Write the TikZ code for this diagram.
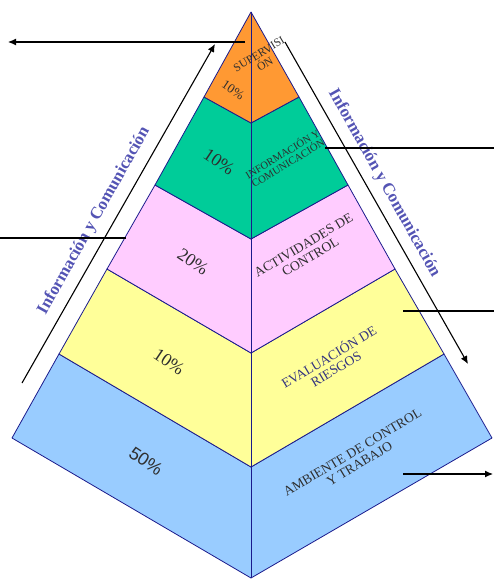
\documentclass[tikz,border=0pt]{standalone}
\usepackage{fontspec}
\setmainfont{Liberation Serif}
\newfontfamily\arialfont{Liberation Sans}
\usetikzlibrary{arrows.meta}

\definecolor{lvorange}{HTML}{FF9933}
\definecolor{lvgreen}{HTML}{00CC99}
\definecolor{lvpink}{HTML}{FFCCFF}
\definecolor{lvyellow}{HTML}{FFFF99}
\definecolor{lvblue}{HTML}{99CCFF}
\definecolor{edgenavy}{HTML}{1A1A8C}
\definecolor{sidetext}{HTML}{5454B4}
\definecolor{darktext}{HTML}{2E2E2E}
\definecolor{navytext}{HTML}{333380}

\tikzset{
  layer/.style={fill=#1, draw=edgenavy, line width=0.8pt, line join=round},
  pct/.style={font=\fontsize{#1}{#1}\selectfont, text=darktext, rotate=-34, inner sep=0pt},
  rlabel/.style={font=\fontsize{#1}{#1}\selectfont, text=darktext, align=center, rotate=31, inner sep=0pt},
  sidelabel/.style={font=\bfseries\fontsize{17}{17}\selectfont, text=sidetext, inner sep=0pt},
  guide/.style={black, line width=1.1pt},
  flow/.style={guide, -{Latex[length=8pt,width=7pt]}}
}

\begin{document}
\begin{tikzpicture}[x=1pt, y=-1pt]
\useasboundingbox (0,0) rectangle (494,579);

% pyramid corner points
\coordinate (apex) at (251,12);
\coordinate (L1) at (204,97);  \coordinate (C1) at (251,123); \coordinate (R1) at (299,97);
\coordinate (L2) at (155,185); \coordinate (C2) at (251,239); \coordinate (R2) at (348,185);
\coordinate (L3) at (107,269); \coordinate (C3) at (251,353); \coordinate (R3) at (395,269);
\coordinate (L4) at (59,354);  \coordinate (C4) at (251,467); \coordinate (R4) at (444,354);
\coordinate (L5) at (12,438);  \coordinate (C5) at (251,578); \coordinate (R5) at (492,438);

% stacked layers, bottom to top
\draw[layer=lvblue]   (L4) -- (C4) -- (R4) -- (R5) -- (C5) -- (L5) -- cycle;
\draw[layer=lvyellow] (L3) -- (C3) -- (R3) -- (R4) -- (C4) -- (L4) -- cycle;
\draw[layer=lvpink]   (L2) -- (C2) -- (R2) -- (R3) -- (C3) -- (L3) -- cycle;
\draw[layer=lvgreen]  (L1) -- (C1) -- (R1) -- (R2) -- (C2) -- (L2) -- cycle;
\draw[layer=lvorange] (apex) -- (R1) -- (C1) -- (L1) -- cycle;
\draw[edgenavy, line width=0.8pt] (apex) -- (C5);

% percentages on the left faces
\node[pct=13] (p1) at (233,90) {10\%};
\node[pct=18] (p2) at (219,162) {10\%};
\node[pct=18] (p3) at (193,262) {20\%};
\node[pct=18] (p4) at (169,362) {10\%};
\node[pct=18, font=\arialfont\fontsize{18}{18}\selectfont] (p5) at (146,461) {50\%};

% component names on the right faces
\node[rlabel=11.5] (t1) at (262,59) {SUPERVISI\\ÓN};
\node[rlabel=10.5] (t2) at (285,158) {INFORMACIÓN Y\\COMUNICACIÓN};
\node[rlabel=13.5] (t3) at (307,251) {ACTIVIDADES DE\\CONTROL};
\node[rlabel=13.5, text=navytext] (t4) at (332,362) {EVALUACIÓN DE\\RIESGOS};
\node[rlabel=13.5] (t5) at (356,458) {AMBIENTE DE CONTROL\\Y TRABAJO};

% information flow along both sides
\coordinate (lu0) at (22,383);  \coordinate (lu1) at (215,44);
\coordinate (rd0) at (285,42);  \coordinate (rd1) at (468,364);
\draw[flow] (lu0) -- (lu1);
\draw[flow] (rd0) -- (rd1);
\node[sidelabel, rotate=60.7] (sl) at (94,221) {Información y Comunicación};
\node[sidelabel, rotate=-60.7] (sr) at (384,183) {Información y Comunicación};

% horizontal leaders
\coordinate (a0) at (245,42);  \coordinate (a1) at (8,42);
\coordinate (b0) at (0,238);   \coordinate (b1) at (126,238);
\coordinate (c0) at (325,148); \coordinate (c1) at (494,148);
\coordinate (d0) at (403,311); \coordinate (d1) at (494,311);
\coordinate (e0) at (403,474); \coordinate (e1) at (493,474);
\draw[flow] (a0) -- (a1);
\draw[guide] (b0) -- (b1);
\draw[guide] (c0) -- (c1);
\draw[guide] (d0) -- (d1);
\draw[flow] (e0) -- (e1);
\end{tikzpicture}
\end{document}
